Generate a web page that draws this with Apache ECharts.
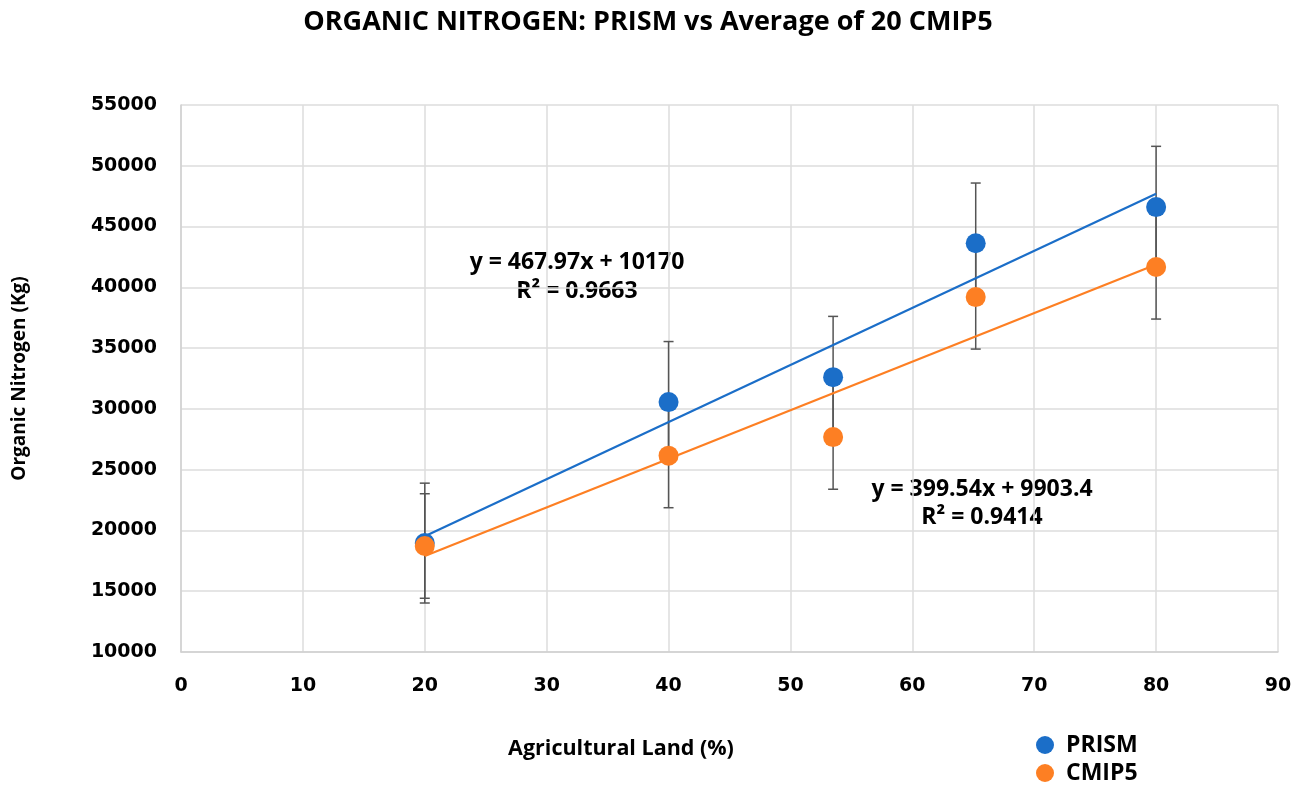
<!DOCTYPE html>
<html>
<head>
<meta charset="utf-8">
<script src="https://cdn.jsdelivr.net/npm/echarts@6/dist/echarts.min.js"></script>
<style>html,body{margin:0;padding:0;background:#fff}#c{width:1308px;height:787px}</style>
</head>
<body>
<div id="c"></div>
<script>
const xValues = [20, 40, 53.5, 65.2, 80];
const prismValues = [18960, 30560, 32610, 43630, 46600];
const cmip5Values = [18720, 26150, 27680, 39200, 41670];
const prismErrors = [4930, 4980, 5000, 4950, 5000];
const cmip5Errors = [4300, 4280, 4290, 4280, 4280];
const prismTrend = [[20, 19530], [80, 47700]];
const cmip5Trend = [[20, 17890], [80, 41870]];
const xTicks = [0, 10, 20, 30, 40, 50, 60, 70, 80, 90];
const yTicks = [10000, 15000, 20000, 25000, 30000, 35000, 40000, 45000, 50000, 55000];

const BLUE = '#1b6ec8', ORANGE = '#fd7f23', ERR = '#555555';
const tickFont = {fontFamily: 'DejaVu Sans', fontWeight: 'bold', fontSize: 19, color: '#000'};
const textFont = 'Open Sans';

function errSeries(vals, errs) {
  return {
    type: 'custom', z: 1, silent: true,
    data: xValues.map((x, i) => [x, vals[i] - errs[i], vals[i] + errs[i]]),
    encode: {x: 0, y: [1, 2]},
    renderItem: function (params, api) {
      const lo = api.coord([api.value(0), api.value(1)]);
      const hi = api.coord([api.value(0), api.value(2)]);
      const w = 5;
      const st = {stroke: ERR, lineWidth: 1.5};
      return {type: 'group', children: [
        {type: 'line', shape: {x1: lo[0], y1: lo[1], x2: hi[0], y2: hi[1]}, style: st},
        {type: 'line', shape: {x1: lo[0] - w, y1: lo[1], x2: lo[0] + w, y2: lo[1]}, style: st},
        {type: 'line', shape: {x1: hi[0] - w, y1: hi[1], x2: hi[0] + w, y2: hi[1]}, style: st}
      ]};
    }
  };
}

function legendFor(name, top) {
  return {
    orient: 'vertical', left: 1036, top: top, itemWidth: 18, itemHeight: 18, padding: 0,
    data: [{name: name, icon: 'circle'}],
    textStyle: {fontFamily: textFont, fontWeight: 'bold', fontSize: 23, lineHeight: 24, color: '#000', padding: [0, 0, 0, 7]}
  };
}

const chart = echarts.init(document.getElementById('c'));
chart.setOption({
  animation: false,
  backgroundColor: '#fff',
  title: [
    {text: 'ORGANIC NITROGEN: PRISM vs Average of 20 CMIP5', left: 643, top: 4, textAlign: 'center',
     textStyle: {fontFamily: textFont, fontWeight: 'bold', fontSize: 27, color: '#000'}},
    {text: 'Agricultural Land (%)', left: 616, top: 733, textAlign: 'center',
     textStyle: {fontFamily: textFont, fontWeight: 'bold', fontSize: 21.5, color: '#000'}}
  ],
  grid: {left: 181, right: 30, top: 105, bottom: 135, containLabel: false},
  legend: [legendFor('PRISM', 733), legendFor('CMIP5', 761)],
  xAxis: {
    type: 'value', min: xTicks[0], max: xTicks[xTicks.length - 1], interval: 10,
    axisLine: {show: true, lineStyle: {color: '#d0d0d0', width: 1.5}},
    axisTick: {show: false},
    splitLine: {show: true, lineStyle: {color: '#dcdcdc', width: 1.5}},
    axisLabel: Object.assign({margin: 25}, tickFont)
  },
  yAxis: {
    type: 'value', min: yTicks[0], max: yTicks[yTicks.length - 1], interval: 5000,
    name: 'Organic Nitrogen (Kg)', nameLocation: 'middle', nameGap: 152,
    nameTextStyle: {fontFamily: textFont, fontWeight: 'bold', fontSize: 19, color: '#000'},
    axisLine: {show: true, lineStyle: {color: '#d0d0d0', width: 1.5}},
    axisTick: {show: false},
    splitLine: {show: true, lineStyle: {color: '#dcdcdc', width: 1.5}},
    axisLabel: Object.assign({margin: 24, formatter: v => String(v)}, tickFont)
  },
  graphic: [
    {type: 'text', x: 577, y: 262, style: {text: 'y = 467.97x + 10170', align: 'center', verticalAlign: 'middle', fill: '#000', font: 'bold 23px "Open Sans"'}},
    {type: 'text', x: 577, y: 291, style: {text: 'R² = 0.9663', align: 'center', verticalAlign: 'middle', fill: '#000', font: 'bold 23px "Open Sans"'}},
    {type: 'text', x: 982, y: 489, style: {text: 'y = 399.54x + 9903.4', align: 'center', verticalAlign: 'middle', fill: '#000', font: 'bold 23px "Open Sans"'}},
    {type: 'text', x: 982, y: 517, style: {text: 'R² = 0.9414', align: 'center', verticalAlign: 'middle', fill: '#000', font: 'bold 23px "Open Sans"'}}
  ],
  series: [
    errSeries(prismValues, prismErrors),
    errSeries(cmip5Values, cmip5Errors),
    {type: 'line', z: 2, data: prismTrend, symbol: 'none', silent: true, lineStyle: {color: BLUE, width: 2.2}},
    {type: 'line', z: 2, data: cmip5Trend, symbol: 'none', silent: true, lineStyle: {color: ORANGE, width: 2.2}},
    {name: 'PRISM', type: 'scatter', z: 3, symbolSize: 20, itemStyle: {color: BLUE, opacity: 1},
     data: xValues.map((x, i) => [x, prismValues[i]])},
    {name: 'CMIP5', type: 'scatter', z: 4, symbolSize: 20, itemStyle: {color: ORANGE, opacity: 1},
     data: xValues.map((x, i) => [x, cmip5Values[i]])}
  ]
});
</script>
</body>
</html>
